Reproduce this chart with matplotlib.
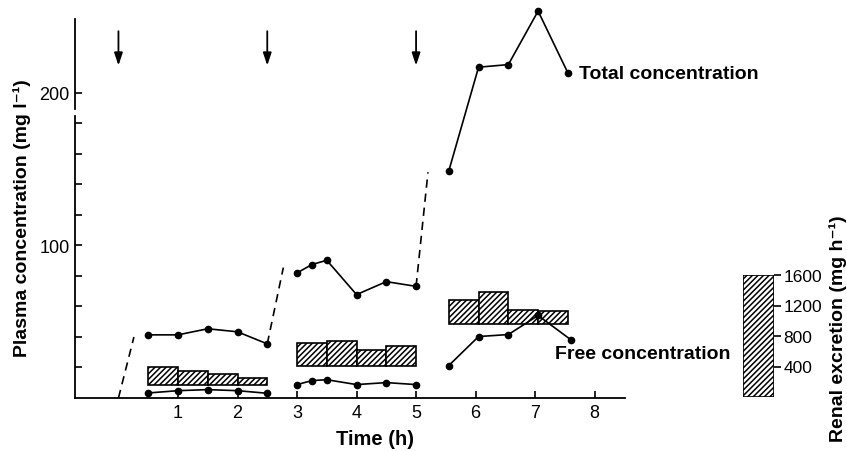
import numpy as np
import matplotlib
matplotlib.use("Agg")
import matplotlib.pyplot as plt

plt.rcParams["font.family"] = ["Liberation Sans", "DejaVu Sans"]
plt.rcParams["hatch.linewidth"] = 1.1

# --- datos ---
# concentracion total (mg/l) por sesion de dosis
t_tot1 = [0.5, 1.0, 1.5, 2.0, 2.5]
c_tot1 = [41.4, 41.4, 45.4, 43.4, 35.5]
t_tot2 = [3.0, 3.25, 3.5, 4.0, 4.5, 5.0]
c_tot2 = [82.0, 87.5, 90.3, 67.8, 76.3, 73.2]
t_tot3 = [5.55, 6.05, 6.55, 7.05, 7.55]
c_tot3 = [148.9, 216.9, 218.6, 253.7, 213.2]

# concentracion libre (mg/l)
t_free1 = [0.5, 1.0, 1.5, 2.0, 2.5]
c_free1 = [3.3, 4.8, 5.5, 4.8, 3.1]
t_free2 = [3.0, 3.25, 3.5, 4.0, 4.5, 5.0]
c_free2 = [8.8, 11.4, 12.0, 8.8, 10.1, 8.8]
t_free3 = [5.55, 6.05, 6.55, 7.05, 7.6]
c_free3 = [21.3, 40.3, 41.6, 54.1, 38.2]

# tramos de infusion (discontinuos)
t_inf1 = [0.0, 0.26]
c_inf1 = [0.0, 40.0]
t_inf2 = [2.5, 2.77]
c_inf2 = [35.5, 85.5]
t_inf3 = [5.0, 5.2]
c_inf3 = [73.2, 148.0]

# excrecion renal (mg/h): inicio de cada intervalo, valor, linea base de la caja
t_ren1 = [0.5, 1.0, 1.5, 2.0]
ren1 = [233, 188, 145, 88]
base1 = 8.6
t_ren2 = [3.0, 3.5, 4.0, 4.5]
ren2 = [293, 319, 197, 262]
base2 = 21.3
t_ren3 = [5.55, 6.05, 6.55, 7.05]
ren3 = [306, 415, 184, 162]
base3 = 48.7

dose_times = [0.0, 2.5, 5.0]
ren_ticks = [400, 800, 1200, 1600]
MGH_PER_UNIT = 20.0   # mg/h por unidad de mg/l en la escala del grafico

# --- figura ---
fig = plt.figure(figsize=(8.47, 4.52), dpi=100)
ax = fig.add_axes([75/847, 53/452, (625-75)/847, (399-20)/452])
ax.set_xlim(-0.73, 8.51)
ax.set_ylim(0, 248.5)

kw = dict(color="black", lw=1.2, marker="o", ms=4.5, clip_on=False, zorder=3)
for t, c in [(t_tot1, c_tot1), (t_tot2, c_tot2), (t_tot3, c_tot3),
             (t_free1, c_free1), (t_free2, c_free2), (t_free3, c_free3)]:
    ax.plot(t, c, **kw)
for t, c in [(t_inf1, c_inf1), (t_inf2, c_inf2), (t_inf3, c_inf3)]:
    ax.plot(t, c, color="black", lw=1.2, ls=(0, (5, 3.5)))

for t, r, b in [(t_ren1, ren1, base1), (t_ren2, ren2, base2), (t_ren3, ren3, base3)]:
    ax.bar(t, np.array(r) / MGH_PER_UNIT, width=0.5, bottom=b, align="edge",
           facecolor="white", edgecolor="black", hatch="//////", lw=1.2, zorder=2)

for td in dose_times:
    ax.annotate("", xy=(td, 218.0), xytext=(td, 240.5),
                arrowprops=dict(arrowstyle="-|>,head_width=0.25,head_length=0.75",
                                color="black", lw=1.3, shrinkA=0, shrinkB=0),
                annotation_clip=False)

ax.text(7.73, 212.5, "Total concentration", fontsize=14, fontweight="bold",
        va="center", ha="left")
ax.text(7.33, 28.9, "Free concentration", fontsize=14, fontweight="bold",
        va="center", ha="left")

# ejes
for s in ["top", "right", "left"]:
    ax.spines[s].set_visible(False)
ax.spines["bottom"].set_linewidth(1.3)
ytr = ax.get_yaxis_transform()
ax.plot([0, 0], [0, 185.0], color="black", lw=1.3, transform=ytr, clip_on=False)
ax.plot([0, 0], [189.5, 248.5], color="black", lw=1.3, transform=ytr, clip_on=False)

ax.set_xticks(range(1, 9))
ax.set_yticks(range(20, 201, 20))
ax.set_yticklabels(["" if v not in (100, 200) else str(v) for v in range(20, 201, 20)])
ax.tick_params(direction="in", length=5, width=1.2, labelsize=13, pad=4)

fig.text(375/847, 1 - 440/452, "Time (h)", fontsize=14.5, fontweight="bold",
         ha="center", va="center")
fig.text(22/847, 1 - 218/452, "Plasma concentration (mg l⁻¹)", fontsize=14,
         fontweight="bold", rotation=90, ha="center", va="center")

# escala de excrecion renal
ax2 = fig.add_axes([742.7/847, 54/452, (774-742.7)/847, (398-276)/452])
ax2.set_xlim(0, 1)
ax2.set_ylim(0, 1600)
ax2.bar([0], [1600], width=1, align="edge", facecolor="white",
        edgecolor="black", hatch="//////", lw=1.2)
for s in ["top", "left", "bottom", "right"]:
    ax2.spines[s].set_visible(False)
ax2.set_xticks([])
ax2.yaxis.tick_right()
ax2.set_yticks(ren_ticks)
ax2.tick_params(axis="y", direction="out", length=5, width=1.2, labelsize=12.5, pad=2)
fig.text(838/847, 1 - 329/452, "Renal excretion (mg h⁻¹)", fontsize=14,
         fontweight="bold", rotation=90, ha="center", va="center")

fig.savefig("out.png", dpi=100)
